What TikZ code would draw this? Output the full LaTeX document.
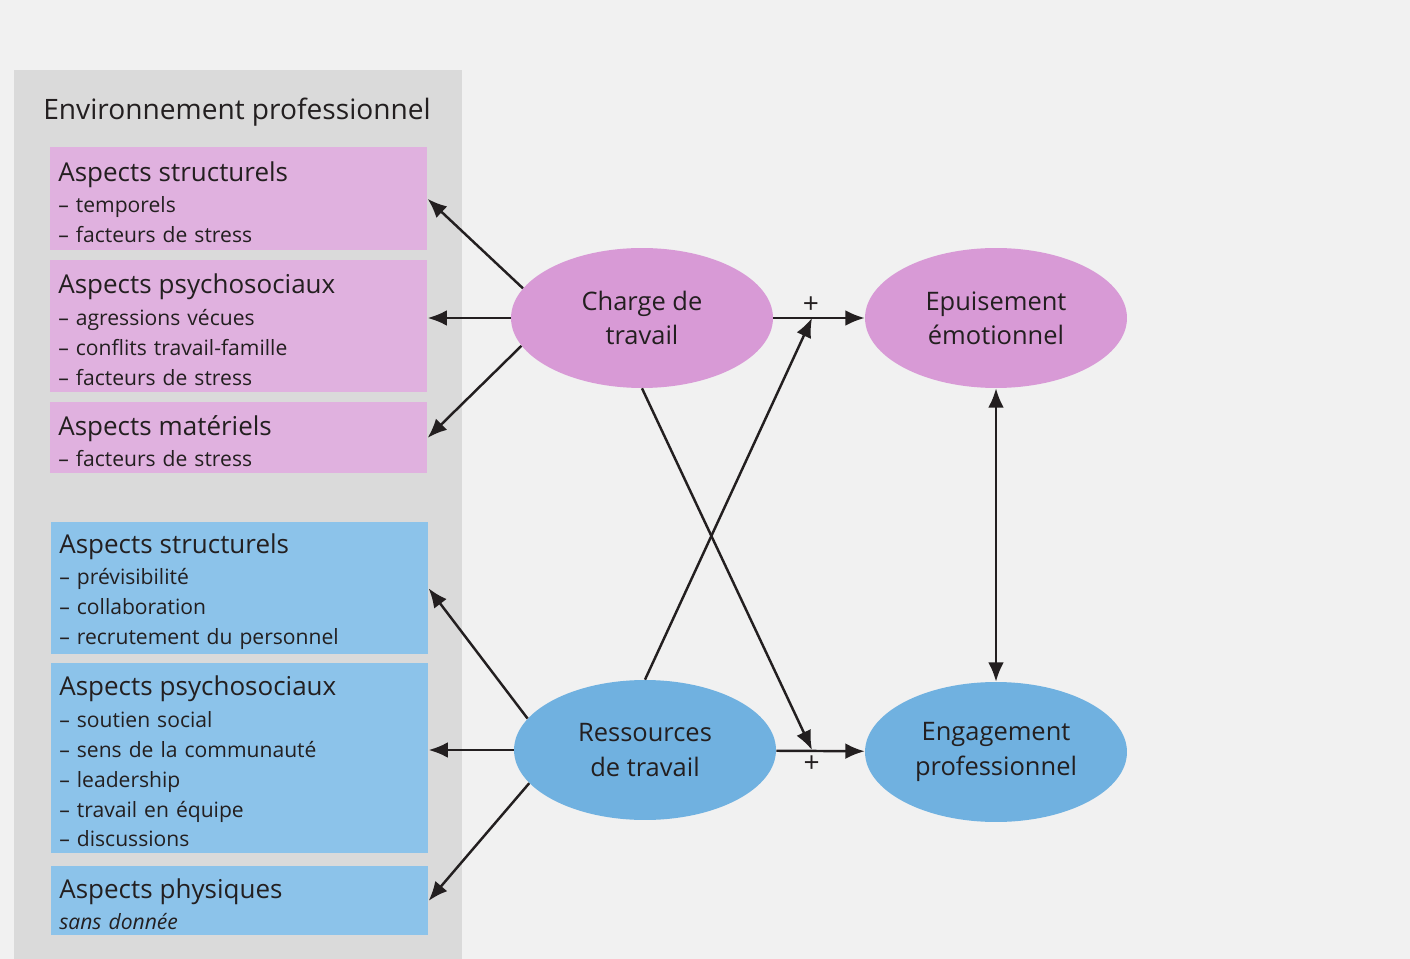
\documentclass[tikz,border=0pt]{standalone}
\usepackage{fontspec}
\setmainfont{Open Sans}
\usetikzlibrary{arrows.meta,positioning,shapes.geometric}
\definecolor{ink}{HTML}{231F20}
\definecolor{pagebg}{HTML}{F1F1F1}
\definecolor{panelgray}{HTML}{DADADA}
\definecolor{pinkbox}{HTML}{E0B1DF}
\definecolor{pinkfactor}{HTML}{D89AD6}
\definecolor{bluebox}{HTML}{8CC3EA}
\definecolor{bluefactor}{HTML}{70B1E0}
\newcommand{\itemfont}{\fontsize{12}{17}\selectfont}
\newcommand{\boxtitle}[1]{\rule{0pt}{15pt}{\fontsize{14.8}{18}\selectfont #1}\\[1pt]}

\begin{document}
\begin{tikzpicture}[
    x=0.02cm, y=-0.02cm,
    aspect/.style={rectangle, anchor=north west, text width=7.22cm, inner xsep=0.16cm, inner ysep=0pt, align=left, font=\itemfont, text=ink},
    pinkaspect/.style={aspect, fill=pinkbox},
    blueaspect/.style={aspect, fill=bluebox},
    factor/.style={ellipse, minimum width=5.24cm, minimum height=2.8cm, inner sep=0pt, align=center, font=\fontsize{14.5}{19.5}\selectfont, text=ink},
    sign/.style={text=ink, font=\fontsize{16}{18}\selectfont, inner sep=2pt},
    arrow/.style={-{Latex[length=11pt,width=9pt]}, line width=1.4pt, draw=ink},
    biarrow/.style={{Latex[length=11pt,width=9pt]}-{Latex[length=11pt,width=9pt]}, line width=1.4pt, draw=ink}
]
% page and panel
\fill[pagebg] (0,0) rectangle (1410,959);
\fill[panelgray] (14,70) rectangle (462,959);

\node[anchor=base west, font=\fontsize{16}{19}\selectfont, text=ink, inner sep=0pt] (env) at (43,120) {Environnement professionnel};

% demands
\node[pinkaspect, minimum height=2.06cm] (structA) at (50,147) {\boxtitle{Aspects structurels}– temporels\\– facteurs de stress};
\node[pinkaspect, minimum height=2.64cm] (psychoA) at (50,260) {\boxtitle{Aspects psychosociaux}– agressions vécues\\– conflits travail-famille\\– facteurs de stress};
\node[pinkaspect, minimum height=1.42cm] (mater) at (50,402) {\boxtitle{Aspects matériels}– facteurs de stress};

% resources
\node[blueaspect, minimum height=2.64cm] (structB) at (51,522) {\boxtitle{Aspects structurels}– prévisibilité\\– collaboration\\– recrutement du personnel};
\node[blueaspect, minimum height=3.8cm] (psychoB) at (51,663) {\boxtitle{Aspects psychosociaux}– soutien social\\– sens de la communauté\\– leadership\\– travail en équipe\\– discussions};
\node[blueaspect, minimum height=1.38cm] (phys) at (51,866) {\boxtitle{Aspects physiques}\textit{sans donnée}};

% factors
\node[factor, fill=pinkfactor] (charge) at (642,318) {Charge de\\travail};
\node[factor, fill=pinkfactor] (epuis) at (996,318) {Epuisement\\émotionnel};
\node[factor, fill=bluefactor] (ressource) at (645,750) {Ressources\\de travail};
\node[factor, fill=bluefactor] (engage) at (996,752) {Engagement\\professionnel};

\coordinate (jointA) at (812,318);
\coordinate (jointB) at (812,750);

\draw[arrow] (charge.166) -- (structA.east);
\draw[arrow] (charge.west) -- (charge.west -| psychoA.east);
\draw[arrow] (charge.193) -- (mater.east);
\draw[arrow] (ressource.165) -- (structB.east);
\draw[arrow] (ressource.west) -- (ressource.west -| psychoB.east);
\draw[arrow] (ressource.196) -- (phys.east);

\draw[arrow] (charge) -- node[pos=0.41, above, sign]{+} (epuis);
\draw[arrow] (ressource) -- node[pos=0.40, below, sign]{+} (engage);
\draw[arrow] (charge.south) -- (jointB);
\draw[arrow] (ressource.north) -- (jointA);
\draw[biarrow] (epuis) -- (engage);
\end{tikzpicture}
\end{document}
